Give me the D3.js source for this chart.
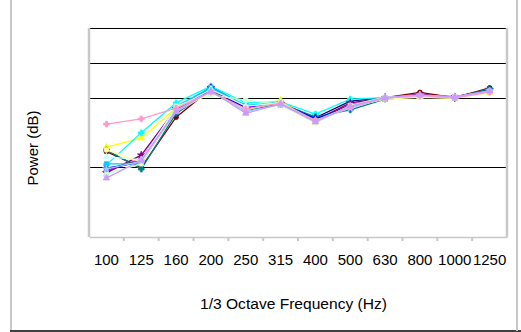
<!DOCTYPE html>
<html>
<head>
<meta charset="utf-8">
<script src="https://cdn.jsdelivr.net/npm/d3@7"></script>
<style>
  body { margin: 0; background: #fff; }
  svg { display: block; font-family: "Liberation Sans", Arial, sans-serif; }
</style>
</head>
<body>
<div id="chart"></div>
<script>
const categories = ['100', '125', '160', '200', '250', '315', '400', '500', '630', '800', '1000', '1250'];
const gridValues = [60, 80, 90, 100];

const navy = [59.2, 62.0, 76.0, 83.1, 77.5, 78.5, 74.2, 79.0, 80.0, 80.8, 80.0, 82.2];
const magenta = [58.9, 62.5, 76.5, 82.5, 77.3, 78.6, 73.8, 78.0, 80.0, 80.5, 80.3, 82.0];
const yellow = [65.8, 68.4, 77.0, 82.0, 76.7, 79.3, 73.0, 77.5, 79.8, 80.3, 79.9, 81.5];
const cyan = [60.7, 69.9, 78.5, 83.3, 78.5, 78.8, 75.3, 79.6, 80.0, 80.5, 80.1, 82.0];
const purple = [58.4, 63.5, 76.8, 82.8, 77.0, 78.3, 73.5, 78.5, 79.9, 81.0, 80.2, 82.3];
const maroon = [64.5, 60.0, 74.4, 82.5, 76.5, 78.5, 73.7, 77.8, 80.0, 81.5, 80.0, 82.8];
const teal = [65.0, 59.5, 75.5, 82.0, 76.3, 78.2, 74.5, 76.5, 79.6, 80.3, 80.0, 82.5];
const blue = [59.8, 61.5, 76.2, 82.6, 77.0, 78.4, 74.0, 77.3, 80.0, 80.6, 80.1, 82.1];
const skyBlue = [61.0, 61.0, 77.5, 82.9, 77.8, 78.6, 73.5, 77.6, 80.0, 80.5, 80.0, 82.0];
const turquoise = [63.0, 62.2, 77.0, 82.4, 77.6, 78.5, 73.2, 77.5, 80.0, 80.4, 80.1, 81.8];
const lightGreen = [58.1, 61.0, 77.6, 80.8, 79.3, 78.0, 72.7, 77.8, 80.2, 80.6, 80.3, 81.8];
const lightYellow = [65.0, 61.5, 76.0, 81.5, 76.5, 78.8, 73.0, 77.4, 79.6, 80.1, 79.8, 81.4];
const paleBlue = [59.5, 61.8, 76.3, 81.8, 76.0, 78.0, 73.5, 77.0, 79.9, 80.7, 80.0, 81.9];
const rose = [72.4, 73.9, 77.0, 81.6, 76.8, 78.4, 73.4, 77.3, 79.9, 80.6, 79.9, 81.6];
const lavender = [56.9, 62.0, 76.0, 81.9, 75.5, 78.2, 73.0, 77.6, 80.0, 80.8, 80.2, 82.0];

const series = [
  { values: navy, color: '#000080', marker: d3.symbolDiamond },
  { values: magenta, color: '#ff00ff', marker: d3.symbolSquare },
  { values: yellow, color: '#ffff00', marker: d3.symbolTriangle },
  { values: cyan, color: '#00ffff', marker: d3.symbolCross },
  { values: purple, color: '#800080', marker: d3.symbolStar },
  { values: maroon, color: '#800000', marker: d3.symbolCircle },
  { values: teal, color: '#008080', marker: d3.symbolCross },
  { values: blue, color: '#0000ff', marker: d3.symbolDiamond },
  { values: skyBlue, color: '#00ccff', marker: d3.symbolSquare },
  { values: turquoise, color: '#ccffff', marker: d3.symbolTriangle },
  { values: lightGreen, color: '#ccffcc', marker: d3.symbolSquare },
  { values: lightYellow, color: '#ffff99', marker: d3.symbolCircle },
  { values: paleBlue, color: '#99ccff', marker: d3.symbolStar },
  { values: rose, color: '#ff99cc', marker: d3.symbolCross },
  { values: lavender, color: '#cc99ff', marker: d3.symbolTriangle }
];

const width = 521, height = 332;
const margin = { left: 89, right: 14, top: 28, bottom: 95 };

const svg = d3.select('#chart')
  .append('svg')
  .attr('width', width)
  .attr('height', height);

// outer frame
svg.append('line')
  .attr('x1', 11).attr('x2', 11).attr('y1', 0).attr('y2', 331)
  .attr('stroke', '#c8c8c8').attr('stroke-width', 2);
svg.append('line')
  .attr('x1', 10).attr('x2', width).attr('y1', 331).attr('y2', 331)
  .attr('stroke', '#000').attr('stroke-width', 1.5);
svg.append('line')
  .attr('x1', 517).attr('x2', 517).attr('y1', 0).attr('y2', 331)
  .attr('stroke', '#c8c8c8').attr('stroke-width', 2);

const xScale = d3.scaleBand()
  .domain(categories)
  .range([margin.left, width - margin.right]);
const yScale = d3.scaleLinear()
  .domain([40, 100])
  .range([height - margin.bottom, margin.top]);

// grid lines
svg.append('g')
  .selectAll('line')
  .data(gridValues)
  .join('line')
  .attr('x1', margin.left)
  .attr('x2', width - margin.right)
  .attr('y1', d => Math.round(yScale(d)) + 0.5)
  .attr('y2', d => Math.round(yScale(d)) + 0.5)
  .attr('stroke', '#000')
  .attr('stroke-width', 1);

// plot area sides
svg.append('line')
  .attr('x1', margin.left).attr('x2', margin.left)
  .attr('y1', margin.top).attr('y2', yScale(40))
  .attr('stroke', '#c8c8c8').attr('stroke-width', 2.5);
svg.append('line')
  .attr('x1', width - margin.right).attr('x2', width - margin.right)
  .attr('y1', margin.top).attr('y2', yScale(40))
  .attr('stroke', '#c8c8c8').attr('stroke-width', 2.5);

// x axis
const xAxis = svg.append('g')
  .attr('transform', `translate(0, ${yScale(40)})`)
  .call(d3.axisBottom(xScale).tickSize(0).tickPadding(17));
xAxis.select('.domain').attr('stroke', '#c8c8c8').attr('stroke-width', 1.5);
xAxis.selectAll('text')
  .attr('font-size', 15)
  .attr('fill', '#000')
  .attr('font-family', '"Liberation Sans", Arial, sans-serif');

// tick marks between categories
svg.append('g')
  .selectAll('line')
  .data(categories.slice(1))
  .join('line')
  .attr('x1', d => xScale(d))
  .attr('x2', d => xScale(d))
  .attr('y1', yScale(40))
  .attr('y2', yScale(40) + 4)
  .attr('stroke', '#c8c8c8')
  .attr('stroke-width', 2);

const line = d3.line()
  .x((d, i) => xScale(categories[i]) + xScale.bandwidth() / 2)
  .y(d => yScale(d));

const seriesG = svg.append('g')
  .selectAll('g')
  .data(series)
  .join('g');

seriesG.append('path')
  .attr('d', d => line(d.values))
  .attr('fill', 'none')
  .attr('stroke', d => d.color)
  .attr('stroke-width', 1.3);

seriesG.each(function (s) {
  d3.select(this)
    .selectAll('path.marker')
    .data(s.values)
    .join('path')
    .attr('class', 'marker')
    .attr('transform', (d, i) => `translate(${xScale(categories[i]) + xScale.bandwidth() / 2}, ${yScale(d)})`)
    .attr('d', d3.symbol(s.marker, 18))
    .attr('fill', s.color)
    .attr('stroke', s.color)
    .attr('stroke-width', 0.8);
});

// axis titles
svg.append('text')
  .attr('x', 200)
  .attr('y', 309)
  .attr('font-size', 14)
  .attr('textLength', 187)
  .attr('lengthAdjust', 'spacingAndGlyphs')
  .text('1/3 Octave Frequency (Hz)');

svg.append('text')
  .attr('transform', 'translate(38, 148) rotate(-90)')
  .attr('text-anchor', 'middle')
  .attr('font-size', 15)
  .text('Power (dB)');
</script>
</body>
</html>
